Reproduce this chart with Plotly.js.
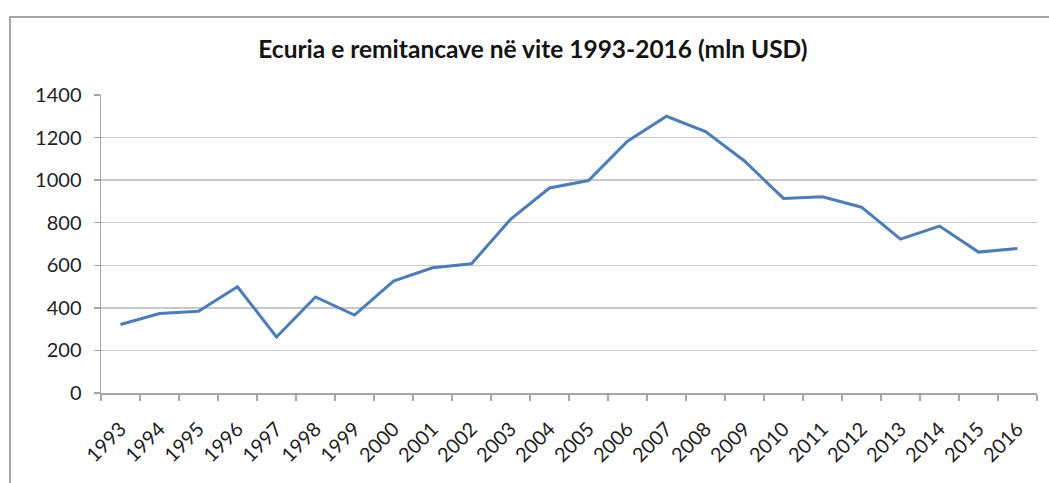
<!DOCTYPE html>
<html>
<head>
<meta charset="utf-8">
<script src="https://cdn.plot.ly/plotly-3.0.1.min.js"></script>
<style>
  html, body { margin: 0; padding: 0; background: #fff; }
  #wrap { position: relative; width: 1049px; height: 483px; overflow: hidden; }
  #chart { width: 1049px; height: 483px; }
  #frame { position: absolute; left: 9px; top: 16px; width: 1100px; height: 520px;
           border: 2px solid #a6a6a6; pointer-events: none; box-sizing: border-box; }
</style>
</head>
<body>
<div id="wrap">
  <div id="chart"></div>
  <div id="frame"></div>
</div>
<script>
const years = ["1993","1994","1995","1996","1997","1998","1999","2000","2001","2002","2003","2004",
               "2005","2006","2007","2008","2009","2010","2011","2012","2013","2014","2015","2016"];
const remittances = [322, 373, 384, 499, 263, 451, 366, 526, 588, 607, 816, 963,
                     998, 1183, 1300, 1228, 1090, 914, 922, 873, 723, 784, 662, 679];
const yTicks = [0, 200, 400, 600, 800, 1000, 1200, 1400];
const chartTitle = "Ecuria e remitancave në vite 1993-2016 (mln USD)";

const fontFamily = "Lato, 'Open Sans', sans-serif";

const trace = {
  type: "scatter",
  mode: "lines",
  x: years,
  y: remittances,
  line: { color: "#4a7ebb", width: 3 },
  hoverinfo: "x+y"
};

const layout = {
  width: 1049,
  height: 483,
  margin: { l: 101, r: 12, t: 95, b: 90 },
  paper_bgcolor: "#ffffff",
  plot_bgcolor: "#ffffff",
  showlegend: false,
  font: { family: fontFamily, color: "#1f1f1f", size: 20 },
  title: {
    text: chartTitle,
    font: { family: fontFamily, size: 24.5, color: "#141414", weight: "bold" },
    x: 0.508, xanchor: "center",
    y: 0.897, yanchor: "middle", yref: "container"
  },
  xaxis: {
    type: "category",
    tickson: "boundaries",
    ticks: "outside",
    ticklen: 6,
    tickcolor: "#a6a6a6",
    tickwidth: 1.5,
    showline: true,
    linecolor: "#a6a6a6",
    linewidth: 1.5,
    showgrid: false,
    tickangle: -45,
    ticklabelstandoff: 15,
    tickfont: { family: fontFamily, size: 20, color: "#1f1f1f" },
    range: [-0.5, 23.5],
    fixedrange: true
  },
  yaxis: {
    range: [0, 1400],
    tickvals: yTicks,
    ticktext: yTicks.map(String),
    ticks: "outside",
    ticklen: 6,
    tickcolor: "#a6a6a6",
    tickwidth: 1.5,
    showline: true,
    linecolor: "#a6a6a6",
    linewidth: 1.5,
    showgrid: true,
    gridcolor: "#c8c8c8",
    gridwidth: 1.5,
    zeroline: false,
    ticklabelstandoff: 8,
    tickfont: { family: fontFamily, size: 20, color: "#1f1f1f" },
    fixedrange: true
  }
};

Plotly.newPlot("chart", [trace], layout, { displayModeBar: false, staticPlot: true });
</script>
</body>
</html>
